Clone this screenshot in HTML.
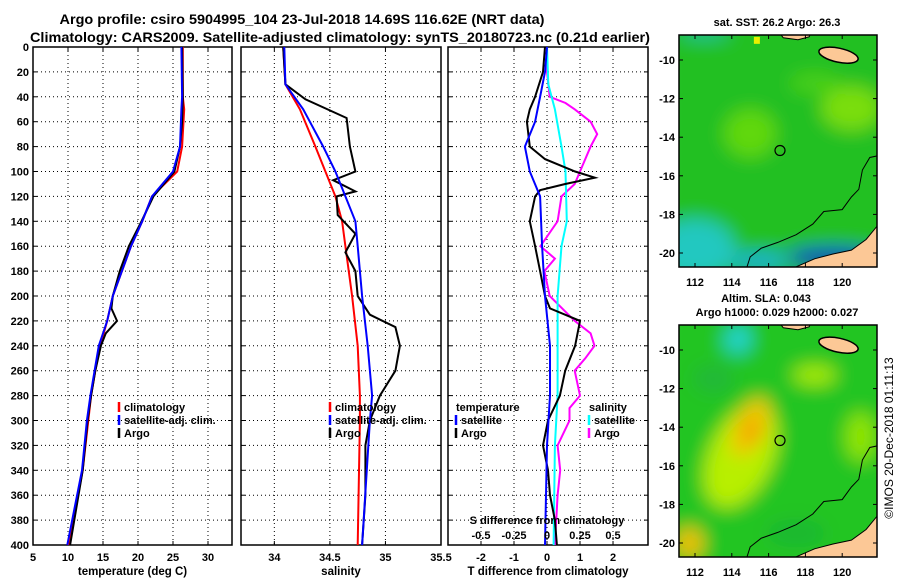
<!DOCTYPE html>
<html><head><meta charset="utf-8"><style>
body{margin:0;background:#fff;}
svg text{font-family:"Liberation Sans",sans-serif;font-weight:bold;}
</style></head><body>
<svg id="c" width="900" height="580" xmlns="http://www.w3.org/2000/svg">
<defs>
<filter id="blur" x="-50%" y="-50%" width="200%" height="200%"><feGaussianBlur stdDeviation="9"/></filter>
<clipPath id="cm1"><rect x="679" y="35" width="198" height="232"/></clipPath>
<clipPath id="cm2"><rect x="679" y="325" width="198" height="232"/></clipPath>
</defs>
<text x="302" y="24" text-anchor="middle" font-size="14" textLength="485" lengthAdjust="spacingAndGlyphs">Argo profile: csiro 5904995_104 23-Jul-2018 14.69S 116.62E (NRT data)</text>
<text x="340" y="42" text-anchor="middle" font-size="14" textLength="620" lengthAdjust="spacingAndGlyphs">Climatology: CARS2009. Satellite-adjusted climatology: synTS_20180723.nc (0.21d earlier)</text>
<g id="plots"></g>
<g id="maps"></g>
<text transform="translate(893,438) rotate(-90)" text-anchor="middle" font-size="12" style="font-weight:normal">©IMOS 20-Dec-2018 01:11:13</text>
</svg>
<script>
const depths=[0,20,40,50,60,80,90,100,105,110,115,120,140,160,180,200,210,220,240,260,280,300,320,340,360,380,400];
const tDepth=[0,40,50,80,100,120,140,160,180,200,220,240,260,280,300,340,400];
const tempClim=[26.4,26.4,26.6,26.3,25.6,22.0,20.6,19.0,17.7,16.4,15.6,14.6,13.9,13.3,12.9,12.1,10.1];
const tempSat=[26.2,26.3,26.2,26.0,25.0,22.0,20.6,19.0,17.7,16.4,15.6,14.4,13.8,13.2,12.7,12.0,9.9];
const argoTDepth=[0,40,60,80,100,120,140,160,180,200,210,220,230,240,260,280,300,340,400];
const tempArgo=[26.3,26.4,26.3,26.0,25.2,22.2,20.5,18.7,17.4,16.4,16.2,17.0,15.4,14.7,13.9,13.3,12.8,12.1,10.3];
const sDepth=[0,30,50,80,100,120,140,160,200,240,280,300,400];
const salClim=[34.08,34.10,34.23,34.37,34.46,34.55,34.61,34.64,34.70,34.75,34.77,34.77,34.75];
const salSat=[34.09,34.10,34.26,34.44,34.55,34.64,34.73,34.75,34.79,34.84,34.88,34.86,34.79];
const argoSDepth=[0,30,42,57,80,100,107,116,120,135,150,165,180,200,215,225,240,260,280,300,320,360,400];
const salArgo=[34.08,34.10,34.28,34.65,34.68,34.73,34.53,34.73,34.56,34.57,34.73,34.64,34.73,34.75,34.86,35.09,35.13,35.09,34.95,34.86,34.82,34.82,34.79];
const tDiffArgo=[-0.06,-0.12,-0.36,-0.52,-0.61,-0.52,-0.06,0.85,1.45,0.55,-0.21,-0.36,-0.52,-0.36,-0.21,-0.06,0.09,1.0,0.85,0.55,0.39,0.03,-0.12,0.03,0.09,0.24,0.3];
const dDepth=[0,20,40,60,80,100,120,160,200,240,280,320,400];
const tDiffSat=[0,-0.06,-0.21,-0.36,-0.67,-0.52,-0.21,-0.15,-0.06,0.09,0.09,0,-0.06];
const mDepth=[0,20,40,45,50,60,70,80,100,110,120,140,160,170,180,200,220,230,240,250,260,280,290,300,320,340,360,400];
const sDiffArgo=[0,0,0.02,0.14,0.21,0.33,0.38,0.33,0.25,0.21,0.11,0.08,-0.05,0.06,-0.02,0.02,0.21,0.33,0.36,0.29,0.21,0.25,0.17,0.17,0.08,0.1,0.08,0.06];
const cDepth=[0,30,50,80,100,140,160,200,240,280,320,400];
const sDiffSat=[0,0.01,0.06,0.11,0.14,0.15,0.11,0.08,0.08,0.08,0.06,0.05];
const depthTicks=[0,20,40,60,80,100,120,140,160,180,200,220,240,260,280,300,320,340,360,380,400];
const tempTicks=[5,10,15,20,25,30];
const salTicks=[34,34.5,35,35.5];
const tdTicks=[-2,-1,0,1,2];
const sdTicks=[-0.5,-0.25,0,0.25,0.5];

const NS='http://www.w3.org/2000/svg';
function mk(tag,attrs,parent){const e=document.createElementNS(NS,tag);for(const k in attrs)e.setAttribute(k,attrs[k]);parent.appendChild(e);return e;}
const Y0=47,Y1=545;
const yD=d=>Y0+(d/400)*(Y1-Y0);
const G=document.getElementById('plots');
const panels=[
 {x0:33,x1:232,v0:5,v1:33.43,ticks:tempTicks,label:'temperature (deg C)',name:'temperature-panel'},
 {x0:241,x1:441,v0:33.7,v1:35.5,ticks:salTicks,label:'salinity',name:'salinity-panel'},
 {x0:448,x1:648,v0:-3,v1:3.06,ticks:tdTicks,label:'T difference from climatology',name:'difference-panel'}];
panels.forEach((p,i)=>{
 p.x=v=>p.x0+(v-p.v0)/(p.v1-p.v0)*(p.x1-p.x0);
 const g=mk('g',{},G);
 
 
 mk('rect',{x:p.x0,y:Y0,width:p.x1-p.x0,height:Y1-Y0,fill:'#fff',stroke:'#000','stroke-width':1.5},g);
 depthTicks.forEach(d=>{
  if(d>0&&d<400){const l=mk('line',{x1:p.x0,x2:p.x1,y1:yD(d),y2:yD(d),stroke:'#000','stroke-dasharray':'1,3','stroke-width':1},g);
  }
  mk('line',{x1:p.x0,x2:p.x0+4,y1:yD(d),y2:yD(d),stroke:'#000'},g);
  mk('line',{x1:p.x1,x2:p.x1-4,y1:yD(d),y2:yD(d),stroke:'#000'},g);
  if(i===0){const t=mk('text',{x:p.x0-4,y:yD(d)+4,'text-anchor':'end','font-size':11},g);t.textContent=d;
  }
 });
 p.ticks.forEach(v=>{const X=p.x(v);
  if(X>p.x0+1&&X<p.x1-1)mk('line',{x1:X,x2:X,y1:Y0,y2:Y1,stroke:'#000','stroke-dasharray':'1,3'},g);
  mk('line',{x1:X,x2:X,y1:Y1,y2:Y1-4,stroke:'#000'},g);mk('line',{x1:X,x2:X,y1:Y0,y2:Y0+4,stroke:'#000'},g);
  const t=mk('text',{x:X,y:Y1+16,'text-anchor':'middle','font-size':11},g);t.textContent=v;
  });
 const t=mk('text',{x:(p.x0+p.x1)/2,y:575,'text-anchor':'middle','font-size':11.5},g);t.textContent=p.label;
 
});
function line(p,ds,vs,col,name,scale){
 const pts=ds.map((d,k)=>p.x(vs[k]*(scale||1)).toFixed(1)+','+yD(d).toFixed(1)).join(' ');
 const e=mk('polyline',{points:pts,fill:'none',stroke:col,'stroke-width':2},G);
 
}
const [P1,P2,P3]=panels;
line(P1,tDepth,tempClim,'#f00','temp-climatology-line');
line(P1,argoTDepth,tempArgo,'#000','temp-argo-line');
line(P1,tDepth,tempSat,'#00f','temp-satellite-line');
line(P2,sDepth,salClim,'#f00','sal-climatology-line');
line(P2,argoSDepth,salArgo,'#000','sal-argo-line');
line(P2,sDepth,salSat,'#00f','sal-satellite-line');
line(P3,mDepth,sDiffArgo,'#f0f','sdiff-argo-line',4);
line(P3,cDepth,sDiffSat,'#0ff','sdiff-satellite-line',4);
line(P3,depths,tDiffArgo,'#000','tdiff-argo-line');
line(P3,dDepth,tDiffSat,'#00f','tdiff-satellite-line');
const sdg=mk('g',{},G);


let tt=mk('text',{x:547,y:524,'text-anchor':'middle','font-size':11},sdg);tt.textContent='S difference from climatology';
sdTicks.forEach(v=>{const t=mk('text',{x:P3.x(v*4),y:539,'text-anchor':'middle','font-size':11},sdg);t.textContent=v;});
function legend(x,y,items,name){
 const g=mk('g',{},G);
 items.forEach((it,k)=>{
  if(it[1])mk('line',{x1:x,x2:x,y1:y+k*13-9,y2:y+k*13+1,stroke:it[1],'stroke-width':2.5},g);
  const t=mk('text',{x:x+(it[1]?5:0),y:y+k*13,'font-size':11},g);t.textContent=it[0];
 });
}
legend(119,411,[['climatology','#f00'],['satellite-adj. clim.','#00f'],['Argo','#000']],'temp-legend');
legend(330,411,[['climatology','#f00'],['satellite-adj. clim.','#00f'],['Argo','#000']],'sal-legend');
legend(456,411,[['temperature',null],['satellite','#00f'],['Argo','#000']],'tdiff-legend');
legend(589,411,[['salinity',null],['satellite','#0ff'],['Argo','#f0f']],'sdiff-legend');

const M=document.getElementById('maps');
const lonX=l=>695+(l-112)*18.4;
function drawMap(top,kind){
 const latY=la=>top+25+(-10-la)*19.3;
 const g=mk('g',{'clip-path':'url(#cm'+kind+')'},M);
 
 const b=mk('g',{filter:'url(#blur)'},g);
 if(kind===1){
  mk('rect',{x:660,y:top-20,width:240,height:280,fill:'#20c020'},b);
  mk('ellipse',{cx:lonX(115),cy:latY(-13.8),rx:26,ry:24,fill:'#60d810'},b);
  mk('ellipse',{cx:lonX(120.5),cy:latY(-12.5),rx:30,ry:22,fill:'#7ade08'},b);
  mk('ellipse',{cx:lonX(118.5),cy:latY(-11.2),rx:25,ry:10,fill:'#48d018'},b);
  mk('ellipse',{cx:lonX(112),cy:latY(-19.8),rx:40,ry:30,fill:'#20c8c0'},b);
  mk('ellipse',{cx:lonX(112.5),cy:latY(-8.6),rx:25,ry:5,fill:'#20c0a8'},b);
  mk('ellipse',{cx:lonX(115.5),cy:latY(-20.4),rx:30,ry:9,fill:'#18b0d0'},b);
  mk('ellipse',{cx:lonX(119.5),cy:latY(-20.1),rx:45,ry:8,fill:'#1050d0'},b);
  mk('ellipse',{cx:lonX(119.5),cy:latY(-20.5),rx:40,ry:5,fill:'#001890'},b);
  mk('rect',{x:lonX(115.2),y:latY(-8.8),width:6,height:7,fill:'#e8f000'},g);
 }else{
  mk('rect',{x:660,y:top-20,width:240,height:280,fill:'#22c522'},b);
  mk('ellipse',{cx:lonX(114.5),cy:latY(-15.5),rx:32,ry:55,fill:'#b8ef00',transform:`rotate(25 ${lonX(114.5)} ${latY(-15.5)})`},b);
  mk('ellipse',{cx:lonX(118.5),cy:latY(-11.3),rx:22,ry:10,fill:'#a8ec00'},b);
  mk('ellipse',{cx:lonX(121),cy:latY(-14.5),rx:15,ry:25,fill:'#90e500'},b);
  mk('ellipse',{cx:lonX(115),cy:latY(-14),rx:16,ry:32,fill:'#f0c800',transform:`rotate(25 ${lonX(115)} ${latY(-14)})`},b);
  mk('ellipse',{cx:lonX(115.1),cy:latY(-14.2),rx:9,ry:12,fill:'#f5a000'},b);
  mk('ellipse',{cx:lonX(111.7),cy:latY(-20),rx:14,ry:16,fill:'#f0c000'},b);
  mk('ellipse',{cx:lonX(114.3),cy:latY(-9.5),rx:14,ry:14,fill:'#22d0c0'},b);
  mk('ellipse',{cx:lonX(114.5),cy:latY(-9.2),rx:8,ry:8,fill:'#20d8e0'},b);
  mk('ellipse',{cx:lonX(113),cy:latY(-11.5),rx:20,ry:14,fill:'#20b838'},b);
  mk('ellipse',{cx:lonX(117.5),cy:latY(-19.5),rx:30,ry:14,fill:'#1ab830'},b);
 }
 const pt=a=>a.map(q=>lonX(q[0]).toFixed(1)+','+latY(q[1]).toFixed(1)).join(' ');
 mk('polygon',{points:pt([[117.3,-20.8],[118.5,-20.3],[119.5,-20.05],[120.5,-19.85],[121.3,-19.3],[121.9,-18.6],[122.2,-18.5],[122.2,-21],[117.3,-21]]),fill:'#fcc896',stroke:'#000','stroke-width':1},g);
 mk('ellipse',{cx:lonX(119.8),cy:latY(-9.75),rx:20,ry:7,fill:'#fcc896',stroke:'#000','stroke-width':1.5,transform:`rotate(12 ${lonX(119.8)} ${latY(-9.75)})`},g);
 mk('polygon',{points:pt([[116.6,-8.6],[116.8,-8.85],[117.6,-8.95],[118.2,-8.8],[118.3,-8.6]]),fill:'#fcc896',stroke:'#000'},g);
 mk('polyline',{points:pt([[114.8,-20.8],[115,-20.2],[115.6,-19.75],[116.5,-19.45],[117.5,-19.05],[118.4,-18.5],[119,-17.85],[120,-17.75],[120.5,-17.1],[120.9,-16.7],[121.1,-15.7],[121.5,-15.05],[122,-14.95]]),fill:'none',stroke:'#000','stroke-width':1},g);
 mk('circle',{cx:lonX(116.62),cy:latY(-14.69),r:5,fill:'none',stroke:'#000','stroke-width':1.2},g);
 const f=mk('rect',{x:679,y:top,width:198,height:232,fill:'none',stroke:'#000','stroke-width':1.5},M);
 
 [112,114,116,118,120].forEach(l=>{const X=lonX(l);
  mk('line',{x1:X,x2:X,y1:top,y2:top+4,stroke:'#000'},M);mk('line',{x1:X,x2:X,y1:top+232,y2:top+228,stroke:'#000'},M);
  const t=mk('text',{x:X,y:top+251,'text-anchor':'middle','font-size':11},M);t.textContent=l;
  });
 [-10,-12,-14,-16,-18,-20].forEach(la=>{const Y=latY(la);
  mk('line',{x1:679,x2:683,y1:Y,y2:Y,stroke:'#000'},M);mk('line',{x1:877,x2:873,y1:Y,y2:Y,stroke:'#000'},M);
  const t=mk('text',{x:675,y:Y+4,'text-anchor':'end','font-size':11},M);t.textContent=la;
  });
}
drawMap(35,1);drawMap(325,2);
let mt=mk('text',{x:777,y:26,'text-anchor':'middle','font-size':11},M);mt.textContent='sat. SST: 26.2 Argo: 26.3';

mt=mk('text',{x:766,y:302,'text-anchor':'middle','font-size':11},M);mt.textContent='Altim. SLA: 0.043';

mt=mk('text',{x:777,y:316,'text-anchor':'middle','font-size':11},M);mt.textContent='Argo h1000: 0.029 h2000: 0.027';

</script>
</body></html>
